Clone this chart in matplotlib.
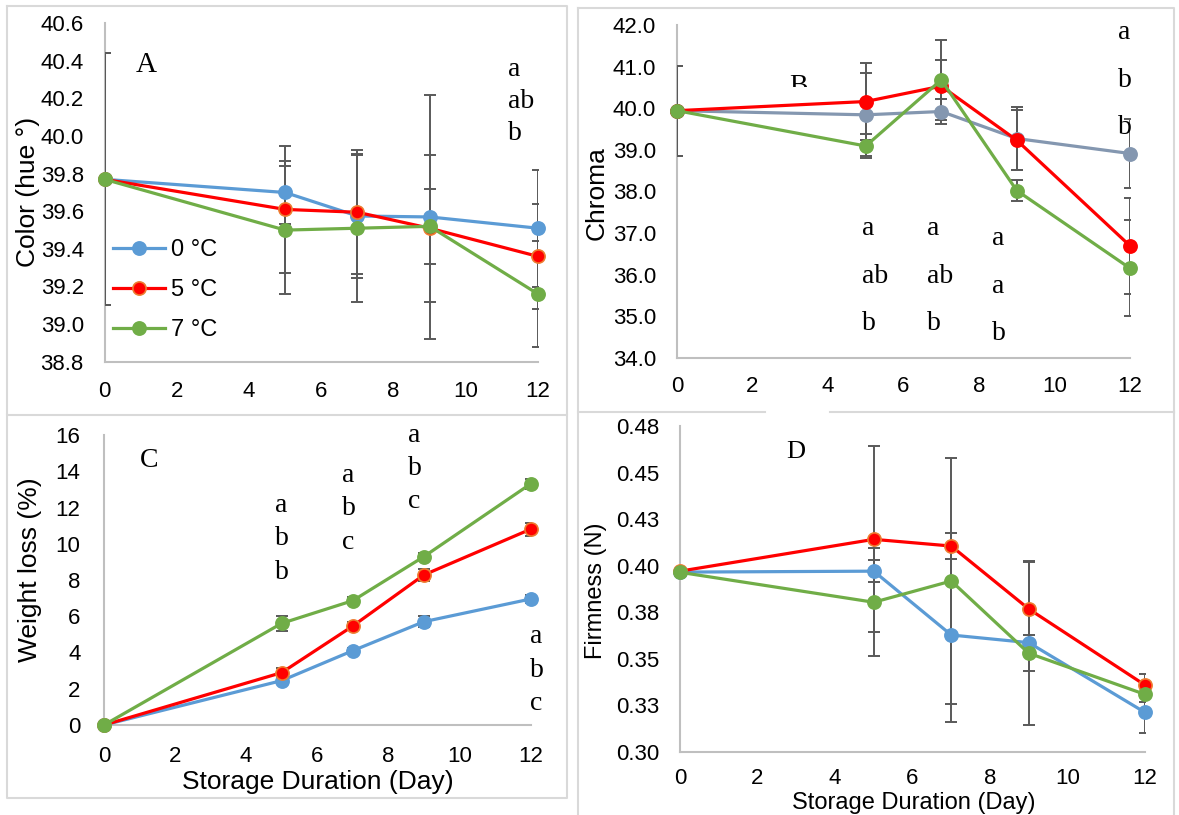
import matplotlib
matplotlib.use('Agg')
import matplotlib.pyplot as plt
from matplotlib.lines import Line2D
from matplotlib.transforms import Bbox

W, H = 1179, 815

# ── data ────────────────────────────────────────────────────────────────
days = [0, 5, 7, 9, 12]
temps = ['0 °C', '5 °C', '7 °C']

hue_0 = [39.77, 39.70, 39.575, 39.57, 39.51]
hue_5 = [39.77, 39.61, 39.595, 39.51, 39.36]
hue_7 = [39.77, 39.50, 39.51, 39.52, 39.16]
hue_0_err = [0.67, 0.17, 0.33, 0.65, 0.31]
hue_5_err = [0.67, 0.34, 0.33, 0.39, 0.28]
hue_7_err = [0.67, 0.34, 0.39, 0.20, 0.28]

chroma_0 = [39.94, 39.84, 39.92, 39.27, 38.91]
chroma_5 = [39.94, 40.16, 40.53, 39.23, 36.69]
chroma_7 = [39.94, 39.09, 40.68, 38.02, 36.15]
chroma_0_err = [1.08, 1.00, 0.30, 0.75, 0.83]
chroma_5_err = [1.08, 0.92, 0.64, 0.72, 1.15]
chroma_7_err = [1.08, 0.30, 0.96, 0.25, 1.15]

weight_0 = [0, 2.45, 4.10, 5.70, 6.95]
weight_5 = [0, 2.89, 5.46, 8.28, 10.80]
weight_7 = [0, 5.61, 6.86, 9.29, 13.30]
weight_0_err = [0, 0.15, 0.15, 0.30, 0.20]
weight_5_err = [0, 0.25, 0.20, 0.35, 0.35]
weight_7_err = [0, 0.40, 0.20, 0.20, 0.30]

firm_0 = [0.3965, 0.397, 0.3627, 0.3586, 0.3211]
firm_5 = [0.397, 0.4141, 0.4105, 0.3767, 0.3358]
firm_7 = [0.3964, 0.3803, 0.3917, 0.3529, 0.3308]
firm_0_err = [0, 0.006, 0.047, 0.044, 0.011]
firm_5_err = [0, 0.050, 0.007, 0.0254, 0.006]
firm_7_err = [0, 0.029, 0.066, 0.0098, 0.004]

hue_ticks = [38.8, 39.0, 39.2, 39.4, 39.6, 39.8, 40.0, 40.2, 40.4, 40.6]
chroma_ticks = [34, 35, 36, 37, 38, 39, 40, 41, 42]
weight_ticks = [0, 2, 4, 6, 8, 10, 12, 14, 16]
firm_ticks = [0.30, 0.325, 0.35, 0.375, 0.40, 0.425, 0.45, 0.475]
firm_tick_labels = ['0.30', '0.33', '0.35', '0.38', '0.40', '0.43', '0.45', '0.48']

# significance letters per column
hue_letters = ['a', 'ab', 'b']
chroma_letters_d5 = ['a', 'ab', 'b']
chroma_letters_d7 = ['a', 'ab', 'b']
chroma_letters_d9 = ['a', 'a', 'b']
chroma_letters_d12 = ['a', 'b', 'b']
weight_letters_d5 = ['a', 'b', 'b']
weight_letters_d7 = ['a', 'b', 'c']
weight_letters_d9 = ['a', 'b', 'c']
weight_letters_d12 = ['a', 'b', 'c']

# ── style ───────────────────────────────────────────────────────────────
BLUE, RED, GREEN, SLATE = '#5B9BD5', '#FF0000', '#70AD47', '#8497B0'
RED_EDGE = '#ED7D31'
ERR = '#595959'
AXIS = '#BFBFBF'
BORDER = '#D9D9D9'
SERIF = 'Liberation Serif'
plt.rcParams['font.family'] = ['Liberation Sans', 'DejaVu Sans']

fig = plt.figure(figsize=(W / 100, H / 100), dpi=100)


def px_axes(x0, x1, ytop, ybot):
    return fig.add_axes([x0 / W, 1 - ybot / H, (x1 - x0) / W, (ybot - ytop) / H])


def fig_line(xs, ys):
    fig.add_artist(Line2D([x / W for x in xs], [1 - y / H for y in ys],
                          transform=fig.transFigure, color=BORDER, lw=1.5))


def fig_text(x, y, s, **kw):
    return fig.text(x / W, 1 - y / H, s, **kw)


def draw_series(ax, ys, errs, color, edge):
    ax.errorbar(days, ys, yerr=errs, fmt='none', ecolor=ERR, elinewidth=1.4,
                capsize=4, capthick=1.4, zorder=3)
    line, = ax.plot(days, ys, '-o', color=color, lw=2.3, ms=9.5, mfc=color,
                    mec=edge, mew=1.2, clip_on=False, zorder=4)
    return line


def style(ax, ylim, yticks, ylabels, xpad, ypad):
    ax.set_xlim(0, 12)
    ax.set_ylim(*ylim)
    ax.set_xticks(range(0, 13, 2))
    ax.set_yticks(yticks)
    ax.set_yticklabels(ylabels)
    for s in ['top', 'right']:
        ax.spines[s].set_visible(False)
    for s in ['left', 'bottom']:
        ax.spines[s].set_color(AXIS)
        ax.spines[s].set_linewidth(1.5)
    ax.tick_params(length=0, labelsize=16)
    ax.tick_params(axis='x', pad=xpad)
    ax.tick_params(axis='y', pad=ypad)
    ax.patch.set_alpha(0)


def letter_col(x, ys, letters):
    for y, s in zip(ys, letters):
        fig_text(x, y, s, family=SERIF, fontsize=20, ha='left', va='baseline')


# ── panel borders ───────────────────────────────────────────────────────
fig_line([7, 567, 567, 7, 7], [6, 6, 415, 415, 6])
fig_line([7, 7, 567, 567], [415, 798, 798, 415])
fig_line([578, 1174, 1174], [8, 8, 412])
fig_line([578, 578, 578], [8, 412, 815])
fig_line([1174, 1174], [412, 815])
fig_line([578, 765], [412, 412])
fig_line([830, 1174], [412, 412])

# ── A: hue ──────────────────────────────────────────────────────────────
axA = px_axes(104.6, 538, 23.3, 361.7)
hA = [draw_series(axA, hue_0, hue_0_err, BLUE, BLUE),
      draw_series(axA, hue_5, hue_5_err, RED, RED_EDGE),
      draw_series(axA, hue_7, hue_7_err, GREEN, GREEN)]
style(axA, (38.8, 40.6), hue_ticks, [f'{t:.1f}' for t in hue_ticks], 14, 15)
axA.legend(hA, temps, loc='upper left', bbox_to_anchor=(113 / W, 1 - 239 / H),
           bbox_transform=fig.transFigure, frameon=False, fontsize=17,
           borderpad=0, borderaxespad=0, handlelength=2.2, handletextpad=0.25,
           labelspacing=0.76)
fig_text(28, 192, 'Color (hue °)', fontsize=19, rotation=90, ha='center', va='center')
fig_text(136, 72, 'A', family=SERIF, fontsize=21, ha='left', va='baseline')
letter_col(508, [76, 108, 140], hue_letters)

# ── B: chroma ───────────────────────────────────────────────────────────
axB = px_axes(677, 1130, 25, 357.7)
draw_series(axB, chroma_0, chroma_0_err, SLATE, SLATE)
draw_series(axB, chroma_5, chroma_5_err, RED, RED)
draw_series(axB, chroma_7, chroma_7_err, GREEN, GREEN)
style(axB, (34, 42), chroma_ticks, [f'{t:.1f}' for t in chroma_ticks], 13, 15)
fig_text(597, 193, 'Chroma', fontsize=19, rotation=90, ha='center', va='center')
tB = fig_text(789, 93, 'B', family=SERIF, fontsize=20, ha='left', va='baseline')
tB.set_clip_box(Bbox.from_extents(0, H - 87, W, H))
tB.set_clip_on(True)
letter_col(862, [235, 283, 330], chroma_letters_d5)
letter_col(927, [235, 283, 330], chroma_letters_d7)
letter_col(992, [245, 293, 340], chroma_letters_d9)
letter_col(1118, [39, 87, 134], chroma_letters_d12)

# ── C: weight loss ──────────────────────────────────────────────────────
axC = px_axes(104, 530.5, 435, 725)
draw_series(axC, weight_0, weight_0_err, BLUE, BLUE)
draw_series(axC, weight_5, weight_5_err, RED, RED_EDGE)
draw_series(axC, weight_7, weight_7_err, GREEN, GREEN)
style(axC, (0, 16), weight_ticks, [str(t) for t in weight_ticks], 15, 17)
fig_text(30, 570, 'Weight loss (%)', fontsize=19, rotation=90, ha='center', va='center')
fig_text(318, 782, 'Storage Duration (Day)', fontsize=19, ha='center', va='center')
fig_text(140, 467, 'C', family=SERIF, fontsize=20, ha='left', va='baseline')
letter_col(275, [512, 545, 579], weight_letters_d5)
letter_col(342, [482, 515, 549], weight_letters_d7)
letter_col(408, [442, 475, 508], weight_letters_d9)
letter_col(530, [643, 677, 710], weight_letters_d12)

# ── D: firmness ─────────────────────────────────────────────────────────
axD = px_axes(680, 1145, 426, 751.7)
draw_series(axD, firm_0, firm_0_err, BLUE, BLUE)
draw_series(axD, firm_5, firm_5_err, RED, RED_EDGE)
draw_series(axD, firm_7, firm_7_err, GREEN, GREEN)
style(axD, (0.30, 0.475), firm_ticks, firm_tick_labels, 12, 15)
fig_text(596, 591, 'Firmness (N)', fontsize=17, rotation=90, ha='center', va='center')
fig_text(914, 803, 'Storage Duration (Day)', fontsize=17, ha='center', va='center')
fig_text(786, 458, 'D', family=SERIF, fontsize=19, ha='left', va='baseline')

fig.savefig('out.png', dpi=100)
